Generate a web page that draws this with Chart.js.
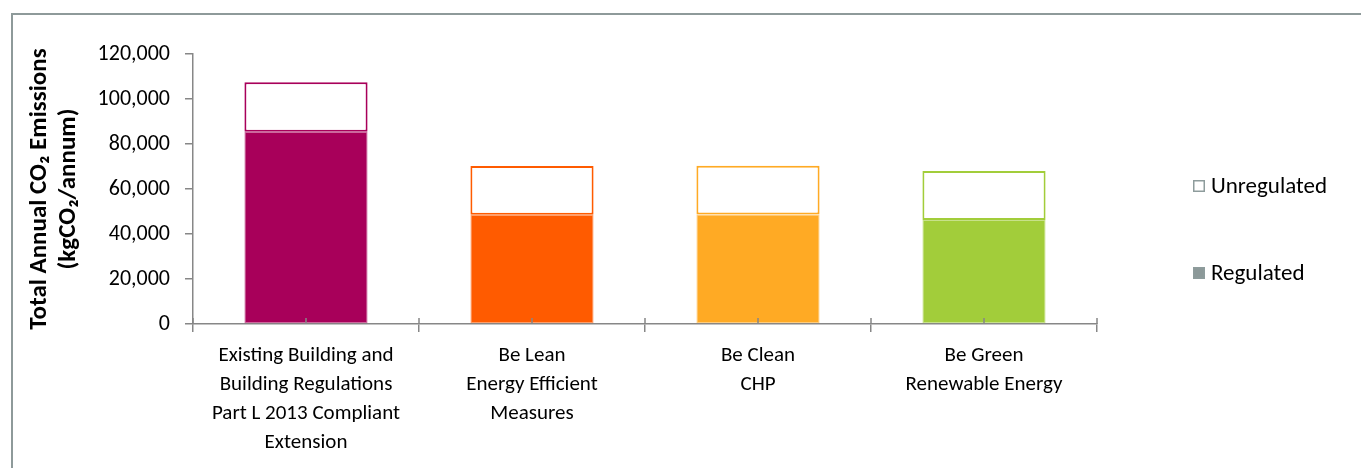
<!DOCTYPE html>
<html>
<head>
<meta charset="utf-8">
<title>Total Annual CO₂ Emissions</title>
<script src="https://cdn.jsdelivr.net/npm/chart.js@4/dist/chart.umd.min.js"></script>
<style>
  html, body { margin: 0; padding: 0; background: #ffffff; }
  #wrap { width: 1361px; height: 468px; position: relative; }
</style>
</head>
<body>
<div id="wrap"><canvas id="co2"></canvas></div>
<script>
// Emission stages (multi-line category labels)
const categories = [
  ["Existing Building and", "Building Regulations", "Part L 2013 Compliant", "Extension"],
  ["Be Lean", "Energy Efficient", "Measures"],
  ["Be Clean", "CHP"],
  ["Be Green", "Renewable Energy"]
];

// kgCO2 per annum
const regulated   = [85500, 48600, 48700, 46200];
const unregulated = [21900, 21600, 21600, 21800];

// Value axis ticks
const yTickValues = [0, 20000, 40000, 60000, 80000, 100000, 120000];

// Stage colours
const stageColours = ["#A8005A", "#FF5B00", "#FFAA24", "#A2CD3A"];

const FONT = "Carlito, Lato, 'Open Sans', sans-serif";
const AXIS_GREY = "#878787";

// Grey frame along the top and left edges
const framePlugin = {
  id: "frame",
  beforeDraw(chart) {
    const ctx = chart.ctx;
    ctx.save();
    ctx.fillStyle = "#ffffff";
    ctx.fillRect(0, 0, chart.width, chart.height);
    ctx.strokeStyle = "#8e9a9a";
    ctx.lineWidth = 2;
    ctx.beginPath();
    ctx.moveTo(12, chart.height);
    ctx.lineTo(12, 14);
    ctx.lineTo(chart.width, 14);
    ctx.stroke();
    ctx.restore();
  }
};

// Inner tick marks on the category axis (centres and the upper half of boundary ticks)
const innerTicksPlugin = {
  id: "innerTicks",
  afterDatasetsDraw(chart) {
    const x = chart.scales.x;
    const ctx = chart.ctx;
    const yAxis = x.top;
    const step = x.width / categories.length;
    ctx.save();
    ctx.strokeStyle = AXIS_GREY;
    ctx.lineWidth = 1.5;
    ctx.beginPath();
    for (let i = 0; i < categories.length; i++) {
      const cx = x.getPixelForValue(i);
      ctx.moveTo(cx, yAxis);
      ctx.lineTo(cx, yAxis - 6);
    }
    for (let i = 0; i <= categories.length; i++) {
      const bx = x.left + i * step;
      ctx.moveTo(bx, yAxis);
      ctx.lineTo(bx, yAxis - 6);
    }
    ctx.stroke();
    ctx.restore();
  }
};

// Legend on the right, drawn from the dataset definitions (top item = top of stack)
const sideLegendPlugin = {
  id: "sideLegend",
  afterDraw(chart) {
    const ctx = chart.ctx;
    const items = chart.data.datasets.slice().reverse();
    const boxX = 1193, box = 12, textX = 1211;
    const rows = [186, 273];
    ctx.save();
    ctx.font = "23px " + FONT;
    ctx.textBaseline = "middle";
    items.forEach((ds, i) => {
      const cy = rows[i];
      ctx.lineWidth = 1.5;
      ctx.strokeStyle = "#8e9c9c";
      ctx.fillStyle = ds.legendFill;
      ctx.fillRect(boxX, cy - box / 2, box, box);
      ctx.strokeRect(boxX + 0.75, cy - box / 2 + 0.75, box - 1.5, box - 1.5);
      ctx.fillStyle = "#000000";
      ctx.fillText(ds.label, textX, cy + 1);
    });
    ctx.restore();
  }
};

new Chart(document.getElementById("co2"), {
  type: "bar",
  data: {
    labels: categories,
    datasets: [
      {
        label: "Regulated",
        data: regulated,
        backgroundColor: stageColours,
        borderColor: stageColours.map(c => c + "99"),
        borderWidth: 1,
        borderSkipped: false,
        legendFill: "#8c9999",
        stack: "s"
      },
      {
        label: "Unregulated",
        data: unregulated,
        backgroundColor: "#ffffff",
        borderColor: stageColours,
        borderWidth: 2,
        borderSkipped: false,
        legendFill: "#ffffff",
        stack: "s"
      }
    ]
  },
  options: {
    responsive: true,
    maintainAspectRatio: false,
    animation: false,
    devicePixelRatio: 1,
    layout: { padding: { top: 54, right: 264, bottom: 0, left: 0 } },
    plugins: {
      legend: { display: false },
      tooltip: { enabled: false }
    },
    datasets: {
      bar: { categoryPercentage: 1, barPercentage: 0.545 }
    },
    scales: {
      x: {
        stacked: true,
        afterFit(s) { s.height = 144; },
        grid: {
          offset: true,
          drawOnChartArea: false,
          drawTicks: true,
          tickLength: 8,
          color: AXIS_GREY,
          lineWidth: 1.5
        },
        border: { color: AXIS_GREY, width: 1.5 },
        ticks: {
          color: "#000000",
          font: { family: FONT, size: 21, lineHeight: 1.38 },
          padding: 9,
          maxRotation: 0,
          autoSkip: false
        }
      },
      y: {
        stacked: true,
        min: 0,
        max: 120000,
        afterFit(s) { s.width = 193; },
        afterBuildTicks(s) { s.ticks = yTickValues.map(v => ({ value: v })); },
        grid: {
          drawOnChartArea: false,
          drawTicks: true,
          tickLength: 8,
          color: AXIS_GREY,
          lineWidth: 1.5
        },
        border: { color: AXIS_GREY, width: 1.5 },
        ticks: {
          color: "#000000",
          font: { family: FONT, size: 22 },
          padding: 15,
          callback: v => Number(v).toLocaleString("en-US")
        },
        title: {
          display: true,
          text: ["Total Annual CO₂ Emissions", "(kgCO₂/annum)"],
          color: "#000000",
          font: { family: FONT, size: 25, weight: "bold", lineHeight: 1.16 },
          padding: { top: 25, bottom: 0 }
        }
      }
    }
  },
  plugins: [framePlugin, innerTicksPlugin, sideLegendPlugin]
});
</script>
</body>
</html>
